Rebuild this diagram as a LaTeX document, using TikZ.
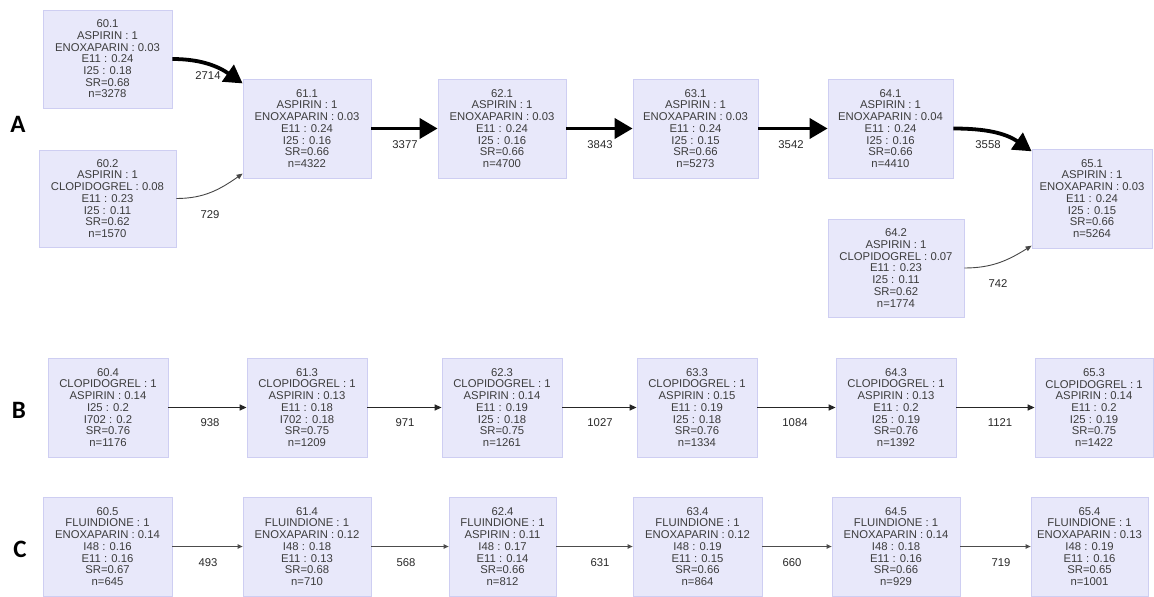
\documentclass[tikz,border=0pt]{standalone}
\usepackage{fontspec}
\setmainfont{Liberation Sans}
\newfontfamily\panelfont{Carlito}
\usetikzlibrary{arrows.meta}
\definecolor{boxfill}{RGB}{232,232,250}
\definecolor{boxline}{RGB}{206,206,242}
\definecolor{boxtext}{RGB}{60,60,60}
\definecolor{lbltext}{RGB}{40,40,40}
\definecolor{thinline}{RGB}{70,70,70}
\begin{document}
\begin{tikzpicture}[x=1pt,y=-1pt,
  box/.style={draw=boxline, fill=boxfill, line width=0.8pt, inner sep=0pt, align=center,
    text=boxtext, font=\fontsize{11.3}{11.7}\selectfont},
  lbl/.style={text=lbltext, font=\fontsize{11.3}{12}\selectfont, inner sep=0pt},
  panel/.style={font=\panelfont\bfseries\fontsize{25}{25}\selectfont, inner sep=0pt},
  heavy/.style={line width=3.8pt, -{Triangle[length=18pt,width=20pt]}},
  light/.style={line width=0.9pt, thinline, -{Triangle[length=6pt,width=5pt]}},
  medium/.style={line width=1.3pt, black!85, -{Triangle[length=7pt,width=6pt]}},
  faint/.style={line width=1pt, black!70, -{Triangle[length=5pt,width=4.5pt]}},
  rowA/.style={box, minimum height=99pt},
]
\useasboundingbox (0,0) rectangle (1154,597);

% panel letters
\node[panel] (pA) at (18,124) {A};
\node[panel] (pB) at (19,410) {B};
\node[panel] (pC) at (20,549) {C};

% ---------- Row A ----------
\node[box, minimum width=129pt, minimum height=98pt] (n601) at (107.5,59)
  {60.1\\ASPIRIN : 1\\ENOXAPARIN : 0.03\\E11 : 0.24\\I25 : 0.18\\SR=0.68\\n=3278};
\node[box, minimum width=137pt, minimum height=97pt] (n602) at (107.5,198.5)
  {60.2\\ASPIRIN : 1\\CLOPIDOGREL : 0.08\\E11 : 0.23\\I25 : 0.11\\SR=0.62\\n=1570};
\node[rowA, minimum width=128pt] (n611) at (307,128.5)
  {61.1\\ASPIRIN : 1\\ENOXAPARIN : 0.03\\E11 : 0.24\\I25 : 0.16\\SR=0.66\\n=4322};
\node[rowA, minimum width=128pt] (n621) at (502,128.5)
  {62.1\\ASPIRIN : 1\\ENOXAPARIN : 0.03\\E11 : 0.24\\I25 : 0.16\\SR=0.66\\n=4700};
\node[rowA, minimum width=125pt] (n631) at (695.5,128.5)
  {63.1\\ASPIRIN : 1\\ENOXAPARIN : 0.03\\E11 : 0.24\\I25 : 0.15\\SR=0.66\\n=5273};
\node[rowA, minimum width=125pt] (n641) at (890.5,128.5)
  {64.1\\ASPIRIN : 1\\ENOXAPARIN : 0.04\\E11 : 0.24\\I25 : 0.16\\SR=0.66\\n=4410};
\node[rowA, minimum width=120pt] (n651) at (1092,198.5)
  {65.1\\ASPIRIN : 1\\ENOXAPARIN : 0.03\\E11 : 0.24\\I25 : 0.15\\SR=0.66\\n=5264};
\node[box, minimum width=136pt, minimum height=98pt] (n642) at (896,268)
  {64.2\\ASPIRIN : 1\\CLOPIDOGREL : 0.07\\E11 : 0.23\\I25 : 0.11\\SR=0.62\\n=1774};

\draw[heavy] (n601.east) to[out=0,in=145] (n611.145);
\draw[light] (n602.east) to[out=0,in=215] (n611.215);
\draw[heavy] (n611) -- (n621);
\draw[heavy] (n621) -- (n631);
\draw[heavy] (n631) -- (n641);
\draw[heavy] (n641.east) to[out=0,in=145] (n651.142);
\draw[light] (n642.east) to[out=0,in=212] (n651.218);

\node[lbl] (l2714) at (208,76) {2714};
\node[lbl] (l729) at (210,215) {729};
\node[lbl] (l3377) at (405,145) {3377};
\node[lbl] (l3843) at (600,145) {3843};
\node[lbl] (l3542) at (791,145) {3542};
\node[lbl] (l3558) at (988,145) {3558};
\node[lbl] (l742) at (998,284) {742};

% ---------- Row B ----------
\begin{scope}[every node/.append style={}]
\node[box, minimum width=120pt, minimum height=99pt] (n604) at (108,407.5)
  {60.4\\CLOPIDOGREL : 1\\ASPIRIN : 0.14\\I25 : 0.2\\I702 : 0.2\\SR=0.76\\n=1176};
\node[box, minimum width=120pt, minimum height=99pt] (n613) at (307,407.5)
  {61.3\\CLOPIDOGREL : 1\\ASPIRIN : 0.13\\E11 : 0.18\\I702 : 0.18\\SR=0.75\\n=1209};
\node[box, minimum width=120pt, minimum height=99pt] (n623) at (502,407.5)
  {62.3\\CLOPIDOGREL : 1\\ASPIRIN : 0.14\\E11 : 0.19\\I25 : 0.18\\SR=0.75\\n=1261};
\node[box, minimum width=120pt, minimum height=99pt] (n633) at (697,407.5)
  {63.3\\CLOPIDOGREL : 1\\ASPIRIN : 0.15\\E11 : 0.19\\I25 : 0.18\\SR=0.76\\n=1334};
\node[box, minimum width=120pt, minimum height=99pt] (n643) at (896,407.5)
  {64.3\\CLOPIDOGREL : 1\\ASPIRIN : 0.13\\E11 : 0.2\\I25 : 0.19\\SR=0.76\\n=1392};
\node[box, minimum width=118pt, minimum height=99pt] (n653) at (1094,407.5)
  {65.3\\CLOPIDOGREL : 1\\ASPIRIN : 0.14\\E11 : 0.2\\I25 : 0.19\\SR=0.75\\n=1422};
\end{scope}

\draw[medium] (n604) -- (n613);
\draw[medium] (n613) -- (n623);
\draw[medium] (n623) -- (n633);
\draw[medium] (n633) -- (n643);
\draw[medium] (n643) -- (n653);

\node[lbl] (l938) at (210,423) {938};
\node[lbl] (l971) at (405,423) {971};
\node[lbl] (l1027) at (600,423) {1027};
\node[lbl] (l1084) at (795,423) {1084};
\node[lbl] (l1121) at (1000,423) {1121};

% ---------- Row C ----------
\node[box, minimum width=129pt, minimum height=99pt] (n605) at (107.5,546.5)
  {60.5\\FLUINDIONE : 1\\ENOXAPARIN : 0.14\\I48 : 0.16\\E11 : 0.16\\SR=0.67\\n=645};
\node[box, minimum width=128pt, minimum height=99pt] (n614) at (307,546.5)
  {61.4\\FLUINDIONE : 1\\ENOXAPARIN : 0.12\\I48 : 0.18\\E11 : 0.13\\SR=0.68\\n=710};
\node[box, minimum width=107pt, minimum height=99pt] (n624) at (502.5,546.5)
  {62.4\\FLUINDIONE : 1\\ASPIRIN : 0.11\\I48 : 0.17\\E11 : 0.14\\SR=0.66\\n=812};
\node[box, minimum width=129pt, minimum height=99pt] (n634) at (697.5,546.5)
  {63.4\\FLUINDIONE : 1\\ENOXAPARIN : 0.12\\I48 : 0.19\\E11 : 0.15\\SR=0.66\\n=864};
\node[box, minimum width=128pt, minimum height=99pt] (n645) at (896,546.5)
  {64.5\\FLUINDIONE : 1\\ENOXAPARIN : 0.14\\I48 : 0.18\\E11 : 0.16\\SR=0.66\\n=929};
\node[box, minimum width=117pt, minimum height=99pt] (n654) at (1089.5,546.5)
  {65.4\\FLUINDIONE : 1\\ENOXAPARIN : 0.13\\I48 : 0.19\\E11 : 0.16\\SR=0.65\\n=1001};

\draw[faint] (n605) -- (n614);
\draw[faint] (n614) -- (n624);
\draw[faint] (n624) -- (n634);
\draw[faint] (n634) -- (n645);
\draw[faint] (n645) -- (n654);

\node[lbl] (l493) at (208,563) {493};
\node[lbl] (l568) at (406,563) {568};
\node[lbl] (l631) at (600,563) {631};
\node[lbl] (l660) at (792,563) {660};
\node[lbl] (l719) at (1001,563) {719};
\end{tikzpicture}
\end{document}
